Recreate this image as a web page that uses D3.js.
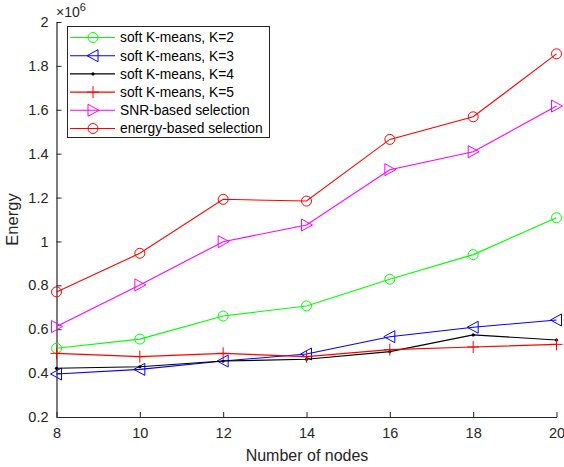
<!DOCTYPE html>
<html><head><meta charset="utf-8">
<script src="https://cdn.jsdelivr.net/npm/d3@7"></script>
<style>body{margin:0;background:#fff}svg{display:block}text{font-family:"Liberation Sans",Arial,sans-serif}</style>
</head><body>
<svg id="c" width="564" height="467"></svg>
<script>
const nodes = [8, 10, 12, 14, 16, 18, 20];
const k2 = [0.513, 0.555, 0.660, 0.706, 0.828, 0.940, 1.108];
const k3 = [0.396, 0.417, 0.455, 0.487, 0.566, 0.609, 0.642];
const k4 = [0.422, 0.429, 0.455, 0.463, 0.498, 0.574, 0.551];
const k5 = [0.490, 0.475, 0.490, 0.475, 0.507, 0.519, 0.531];
const snr = [0.612, 0.802, 0.999, 1.075, 1.327, 1.409, 1.617];
const energy = [0.770, 0.946, 1.192, 1.184, 1.465, 1.568, 1.855];
const xTicks = [8, 10, 12, 14, 16, 18, 20];
const yTicks = [0.2, 0.4, 0.6, 0.8, 1, 1.2, 1.4, 1.6, 1.8, 2];
const seriesNames = ["soft K-means, K=2", "soft K-means, K=3", "soft K-means, K=4", "soft K-means, K=5", "SNR-based selection", "energy-based selection"];

const series = [
  {name: seriesNames[0], vals: k2, color: "#00ff00", marker: "circle"},
  {name: seriesNames[1], vals: k3, color: "#0000ff", marker: "triLeft"},
  {name: seriesNames[2], vals: k4, color: "#000000", marker: "dot"},
  {name: seriesNames[3], vals: k5, color: "#ff0000", marker: "plus"},
  {name: seriesNames[4], vals: snr, color: "#ff00ff", marker: "triRight"},
  {name: seriesNames[5], vals: energy, color: "#ff0000", marker: "circle"}
];

const svg = d3.select("#c");
const L = 56.5, R = 556.5, T = 22, B = 417;
const x = d3.scaleLinear().domain([8, 20]).range([L, R]);
const y = d3.scaleLinear().domain([0.2, 2]).range([B, T]);
const axisColor = "#262626";

// axes
const xa = svg.append("g").attr("transform", `translate(0,${B})`)
  .call(d3.axisBottom(x).tickValues(xTicks).tickSizeInner(-5).tickSizeOuter(0).tickPadding(11).tickFormat(d3.format("d")));
const ya = svg.append("g").attr("transform", `translate(${L},0)`)
  .call(d3.axisLeft(y).tickValues(yTicks).tickSizeInner(-5).tickSizeOuter(0).tickPadding(8).tickFormat(d => d3.format("~g")(d)));
[xa, ya].forEach(g => {
  g.select(".domain").attr("stroke", axisColor).attr("stroke-width", 1.2);
  g.selectAll(".tick line").attr("stroke", axisColor).attr("stroke-width", 1);
  g.selectAll(".tick text").attr("fill", axisColor).attr("font-size", 14.5).attr("font-family", "Liberation Sans, Arial, sans-serif");
});
xa.selectAll(".tick text").attr("dy", "0.71em");

// exponent
const ex = svg.append("text").attr("x", 56).attr("y", 17).attr("fill", axisColor).attr("font-size", 14);
ex.append("tspan").text("\u00d710");
ex.append("tspan").attr("dy", -6).attr("font-size", 11).text("6");

// labels
svg.append("text").attr("x", 307).attr("y", 461).attr("text-anchor", "middle").attr("fill", axisColor).attr("font-size", 16).text("Number of nodes");
svg.append("text").attr("transform", `translate(17.5,${(T + B) / 2}) rotate(-90)`).attr("text-anchor", "middle").attr("fill", axisColor).attr("font-size", 16.5).text("Energy");

function drawMarker(g, type, color, cx, cy) {
  if (type === "circle") {
    g.append("circle").attr("cx", cx).attr("cy", cy).attr("r", 5).attr("fill", "none").attr("stroke", color).attr("stroke-width", 1);
  } else if (type === "triLeft") {
    g.append("path").attr("d", `M${cx - 6},${cy} L${cx + 5},${cy - 6} L${cx + 5},${cy + 6} Z`).attr("fill", "none").attr("stroke", color).attr("stroke-width", 1);
  } else if (type === "triRight") {
    g.append("path").attr("d", `M${cx + 6},${cy} L${cx - 5},${cy - 6} L${cx - 5},${cy + 6} Z`).attr("fill", "none").attr("stroke", color).attr("stroke-width", 1);
  } else if (type === "plus") {
    g.append("path").attr("d", `M${cx - 6},${cy} H${cx + 6} M${cx},${cy - 6} V${cy + 6}`).attr("fill", "none").attr("stroke", color).attr("stroke-width", 1);
  } else if (type === "dot") {
    g.append("circle").attr("cx", cx).attr("cy", cy).attr("r", 1.6).attr("fill", color);
  }
}

const line = d3.line().x((d, i) => x(nodes[i])).y(d => y(d));
const plot = svg.append("g");
series.forEach(s => {
  const g = plot.append("g");
  g.append("path").datum(s.vals).attr("d", line).attr("fill", "none").attr("stroke", s.color).attr("stroke-width", 1.1);
  s.vals.forEach((v, i) => drawMarker(g, s.marker, s.color, x(nodes[i]), y(v)));
});

// legend
const lg = svg.append("g");
lg.append("rect").attr("x", 67.5).attr("y", 26.5).attr("width", 202).attr("height", 111).attr("fill", "#fff").attr("stroke", axisColor).attr("stroke-width", 1);
series.forEach((s, i) => {
  const yy = 37.5 + i * 18.2;
  lg.append("line").attr("x1", 70).attr("x2", 115).attr("y1", yy).attr("y2", yy).attr("stroke", s.color).attr("stroke-width", 1.1);
  drawMarker(lg, s.marker, s.color, 93, yy);
  lg.append("text").attr("x", 120).attr("y", yy).attr("dy", "0.35em").attr("font-size", 13.8).attr("fill", "#000").text(s.name);
});
</script>
</body></html>
